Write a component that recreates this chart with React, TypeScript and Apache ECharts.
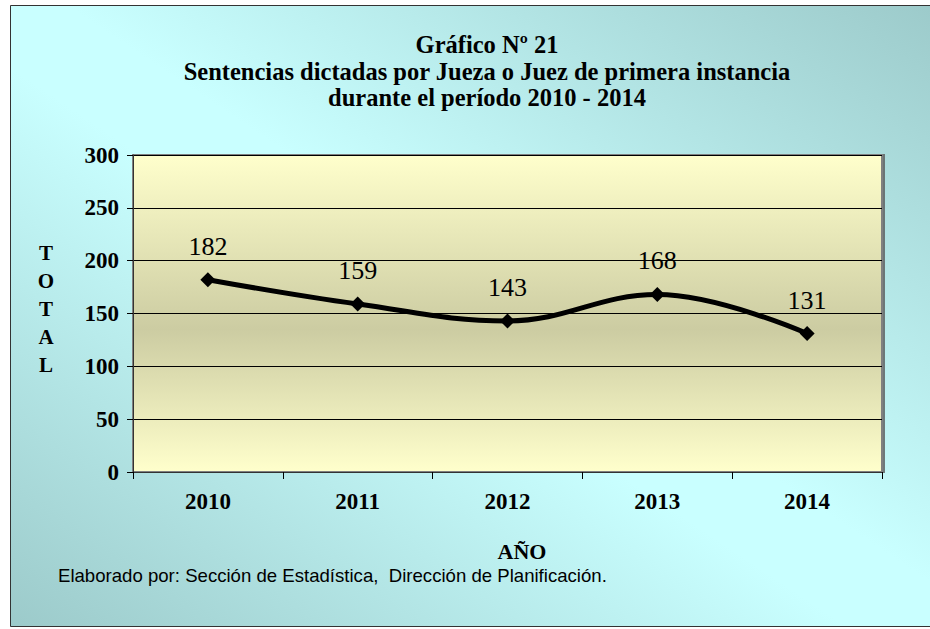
import React, { useEffect, useRef } from "react";
import * as echarts from "echarts";

const years = ["2010", "2011", "2012", "2013", "2014"];
const totals = [182, 159, 143, 168, 131];
const yTicks = { min: 0, max: 300, interval: 50 };
const titleLines = [
  "Gráfico Nº 21",
  "Sentencias dictadas por Jueza o Juez de primera instancia",
  "durante el período 2010 - 2014",
];
const yName = "TOTAL";
const xName = "AÑO";
const footer = "Elaborado por: Sección de Estadística,  Dirección de Planificación.";

const SERIF = "Liberation Serif";
const SANS = "Liberation Sans";

export default function App() {
  const ref = useRef<HTMLDivElement>(null);
  useEffect(() => {
    document.body.style.margin = "0";
    const chart = echarts.init(ref.current!, null, { renderer: "svg" });
    const option: any = {
      animation: false,
      graphic: [
        {
          type: "rect",
          z: -10,
          silent: true,
          shape: { x: 10.5, y: 5.5, width: 930, height: 621 },
          style: {
            fill: new echarts.graphic.LinearGradient(1, 0, 0, 1, [
              { offset: 0, color: "#9ccaca" },
              { offset: 0.47, color: "#c9ffff" },
              { offset: 0.55, color: "#c9ffff" },
              { offset: 1, color: "#9ccaca" },
            ]),
            stroke: "#333",
            lineWidth: 1,
          },
        },
        {
          type: "text",
          x: 487,
          y: 31.5,
          style: {
            text: titleLines.join("\n"),
            fontFamily: SERIF,
            fontWeight: "bold",
            fontSize: 24.5,
            lineHeight: 26.5,
            fill: "#000",
            align: "center",
            verticalAlign: "top",
          },
        },
        {
          type: "text",
          x: 46,
          y: 239,
          style: {
            text: yName.split("").join("\n"),
            fontFamily: SERIF,
            fontWeight: "bold",
            fontSize: 21,
            lineHeight: 28,
            fill: "#000",
            align: "center",
            verticalAlign: "top",
          },
        },
        {
          type: "text",
          x: 522,
          y: 551,
          style: {
            text: xName,
            fontFamily: SERIF,
            fontWeight: "bold",
            fontSize: 22,
            fill: "#000",
            align: "center",
            verticalAlign: "middle",
          },
        },
        {
          type: "text",
          x: 58,
          y: 575,
          style: {
            text: footer,
            fontFamily: SANS,
            fontSize: 18.6,
            fill: "#000",
            align: "left",
            verticalAlign: "middle",
          },
        },
      ],
      grid: {
        left: 133,
        right: 48,
        top: 155,
        bottom: 157,
        show: true,
        borderColor: "#808080",
        borderWidth: 2,
        shadowColor: "rgba(90,90,90,0.8)",
        shadowOffsetX: 2,
        shadowOffsetY: 0,
        shadowBlur: 0,
        backgroundColor: new echarts.graphic.LinearGradient(0, 0, 0, 1, [
          { offset: 0, color: "#ffffcc" },
          { offset: 0.55, color: "#cccca2" },
          { offset: 1, color: "#ffffcc" },
        ]),
      },
      xAxis: {
        type: "category",
        data: years,
        boundaryGap: true,
        axisLine: { show: true, lineStyle: { color: "#333", width: 1 } },
        axisTick: { show: true, length: 7, lineStyle: { color: "#000" } },
        axisLabel: {
          color: "#000",
          fontFamily: SERIF,
          fontWeight: "bold",
          fontSize: 23,
          margin: 18,
        },
        splitLine: { show: false },
      },
      yAxis: {
        type: "value",
        min: yTicks.min,
        max: yTicks.max,
        interval: yTicks.interval,
        axisLine: { show: true, lineStyle: { color: "#333", width: 1 } },
        axisTick: { show: true, length: 6, lineStyle: { color: "#000" } },
        axisLabel: {
          color: "#000",
          fontFamily: SERIF,
          fontWeight: "bold",
          fontSize: 23,
          margin: 14,
        },
        splitLine: { show: true, lineStyle: { color: "#000", width: 1 } },
      },
      series: [
        {
          type: "line",
          data: totals,
          smooth: 0.4,
          symbol: "diamond",
          symbolSize: 15,
          itemStyle: { color: "#000" },
          lineStyle: { color: "#000", width: 5 },
          label: {
            show: true,
            position: "top",
            distance: 13,
            color: "#000",
            fontFamily: SERIF,
            fontSize: 26,
          },
        },
      ],
    };
    chart.setOption(option);
    return () => chart.dispose();
  }, []);
  return <div ref={ref} style={{ width: 930, height: 629 }} />;
}
